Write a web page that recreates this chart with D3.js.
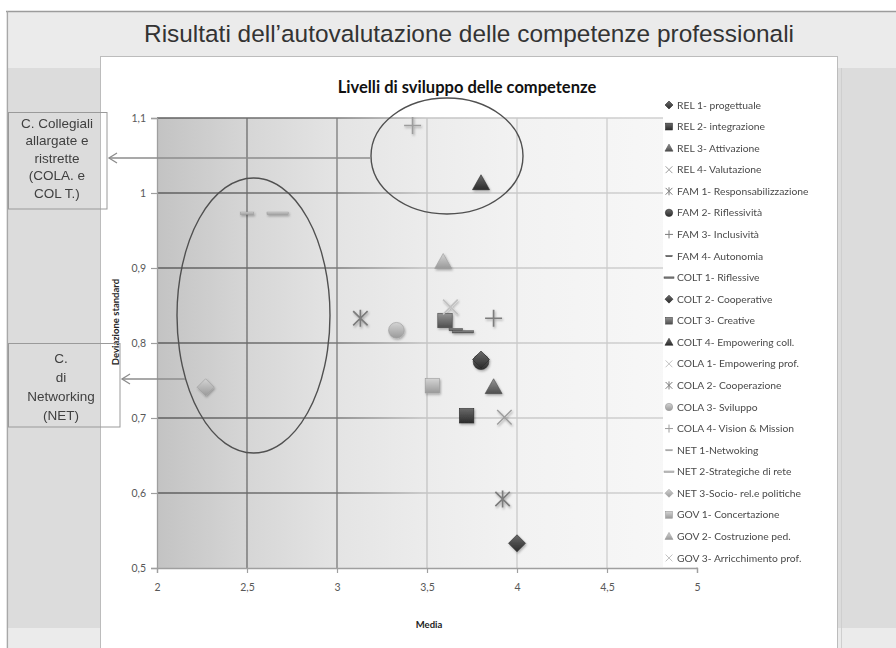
<!DOCTYPE html>
<html>
<head>
<meta charset="utf-8">
<script src="https://cdnjs.cloudflare.com/ajax/libs/d3/7.8.5/d3.min.js"></script>
<style>
  html, body { margin: 0; padding: 0; background: #ffffff; }
  svg { display: block; }
</style>
</head>
<body>
<div id="chart"></div>
<script>
// ---- Data -------------------------------------------------------------
const seriesNames = [
  "REL 1- progettuale", "REL 2- integrazione", "REL 3- Attivazione", "REL 4- Valutazione",
  "FAM 1- Responsabilizzazione", "FAM 2- Riflessività", "FAM 3- Inclusività", "FAM 4- Autonomia",
  "COLT 1- Riflessive", "COLT 2- Cooperative", "COLT 3- Creative", "COLT 4- Empowering coll.",
  "COLA 1- Empowering prof.", "COLA 2- Cooperazione", "COLA 3- Sviluppo", "COLA 4- Vision & Mission",
  "NET 1-Netwoking", "NET 2-Strategiche di rete", "NET 3-Socio- rel.e politiche",
  "GOV 1- Concertazione", "GOV 2- Costruzione ped.", "GOV 3- Arricchimento prof."
];
// Media (x) and Deviazione standard (y) for each competence
const mediaValues = [4.00, 3.72, 3.87, 3.93, 3.92, 3.80, 3.87, 3.66, 3.70, 3.80, 3.60, 3.80,
                     3.63, 3.13, 3.33, 3.42, 2.50, 2.67, 2.27, 3.53, 3.59, 3.63];
const devValues   = [0.533, 0.703, 0.741, 0.701, 0.592, 0.775, 0.833, 0.818, 0.815, 0.778, 0.830, 1.013,
                     0.848, 0.833, 0.817, 1.090, 0.973, 0.973, 0.741, 0.743, 0.908, 0.848];
const xTickValues = [2, 2.5, 3, 3.5, 4, 4.5, 5];
const yTickValues = [0.5, 0.6, 0.7, 0.8, 0.9, 1.0, 1.1];

const mainTitle = "Risultati dell\u2019autovalutazione delle competenze professionali";
const chartTitle = "Livelli di sviluppo delle competenze";
const xTitle = "Media";
const yTitle = "Deviazione standard";
const noteCollegiali = ["C. Collegiali", "allargate e", "ristrette", "(COLA. e", "COL T.)"];
const noteNetworking = ["C.", "di", "Networking", "(NET)"];

// Marker look for each series (shape + grey tone)
const markerStyle = [
  ["diamond", "dark"], ["square", "dark"], ["triangle", "mid"], ["x", "light"],
  ["star", "mid"], ["circle", "dark"], ["plus", "mid"], ["dashShort", "mid"],
  ["dashLong", "mid"], ["diamond", "dark"], ["square", "mid"], ["triangle", "dark"],
  ["x", "pale"], ["star", "mid"], ["circle", "light"], ["plus", "light"],
  ["dashShort", "light"], ["dashLong", "light"], ["diamond", "light"],
  ["square", "light"], ["triangle", "light"], ["x", "pale"]
];

const points = seriesNames.map((name, i) => ({
  name, media: mediaValues[i], dev: devValues[i], shape: markerStyle[i][0], tone: markerStyle[i][1]
}));

// ---- Canvas -------------------------------------------------------------
const W = 896, H = 648;
const svg = d3.select("#chart").append("svg").attr("width", W).attr("height", H)
  .attr("font-family", "Lato, 'Open Sans', sans-serif");
const defs = svg.append("defs");

// tone gradients for filled markers
const tones = {
  dark:  { top: "#6a6a6a", bottom: "#2c2c2c", edge: "#2a2a2a", line: "#4a4a4a" },
  mid:   { top: "#959595", bottom: "#4e4e4e", edge: "#4a4a4a", line: "#7c7c7c" },
  light: { top: "#d4d4d4", bottom: "#9a9a9a", edge: "#9a9a9a", line: "#9c9c9c" },
  pale:  { top: "#e2e2e2", bottom: "#bdbdbd", edge: "#bdbdbd", line: "#c2c2c2" }
};
Object.entries(tones).forEach(([k, t]) => {
  const g = defs.append("linearGradient").attr("id", "tone-" + k)
    .attr("x1", 0).attr("y1", 0).attr("x2", 0).attr("y2", 1);
  g.append("stop").attr("offset", 0).attr("stop-color", t.top);
  g.append("stop").attr("offset", 0.55).attr("stop-color", d3.interpolateRgb(t.top, t.bottom)(0.55));
  g.append("stop").attr("offset", 1).attr("stop-color", t.bottom);
});

const shadow = defs.append("filter").attr("id", "mk-shadow")
  .attr("x", "-50%").attr("y", "-50%").attr("width", "200%").attr("height", "200%");
shadow.append("feDropShadow").attr("dx", 1).attr("dy", 1.5).attr("stdDeviation", 1.1)
  .attr("flood-color", "#000").attr("flood-opacity", 0.3);

// plot-area background: dark on the left fading to white on the right
const bg = defs.append("linearGradient").attr("id", "plot-bg")
  .attr("x1", 0).attr("y1", 0).attr("x2", 1).attr("y2", 0);
[[0, "#c3c3c3"], [0.167, "#d6d6d6"], [0.333, "#e4e4e4"], [0.5, "#ececec"],
 [0.667, "#f2f2f2"], [1, "#f8f8f8"]].forEach(([o, c]) =>
  bg.append("stop").attr("offset", o).attr("stop-color", c));

// ---- Slide background -----------------------------------------------------
svg.append("rect").attr("x", 6).attr("y", 11).attr("width", W - 6).attr("height", H - 11).attr("fill", "#ebebeb");
svg.append("rect").attr("x", 8).attr("y", 68).attr("width", 92).attr("height", 560).attr("fill", "#dcdcdc");
svg.append("rect").attr("x", 838).attr("y", 68).attr("width", 58).attr("height", 560).attr("fill", "#dcdcdc");
svg.append("line").attr("x1", 6).attr("x2", W).attr("y1", 11.5).attr("y2", 11.5)
  .attr("stroke", "#9c9c9c").attr("stroke-width", 1.5);
svg.append("line").attr("x1", 7.5).attr("x2", 7.5).attr("y1", 11).attr("y2", H)
  .attr("stroke", "#a8a8a8").attr("stroke-width", 1.2);
svg.append("line").attr("x1", 841.5).attr("x2", 841.5).attr("y1", 68).attr("y2", H)
  .attr("stroke", "#cfcfcf").attr("stroke-width", 1);

svg.append("text").attr("x", 469).attr("y", 42).attr("text-anchor", "middle")
  .attr("font-family", "'Liberation Sans', Arial, sans-serif").attr("font-size", 24.5)
  .attr("textLength", 650).attr("lengthAdjust", "spacingAndGlyphs")
  .attr("fill", "#333333").text(mainTitle);

// chart panel
svg.append("rect").attr("x", 100.5).attr("y", 56.5).attr("width", 737).attr("height", 600)
  .attr("fill", "#ffffff").attr("stroke", "#bcbcbc").attr("stroke-width", 1);

svg.append("text").attr("x", 467).attr("y", 93).attr("text-anchor", "middle")
  .attr("font-size", 16.5).attr("font-weight", 700).attr("fill", "#111").text(chartTitle);

// ---- Scales -----------------------------------------------------------------
const x = d3.scaleLinear().domain([2, 5]).range([157, 697]);
const y = d3.scaleLinear().domain([0.5, 1.1]).range([568, 118]);
const locale = d3.formatLocale({ decimal: ",", thousands: ".", grouping: [3], currency: ["", "€"] });
const fmt = locale.format("~g");

const plot = svg.append("g");
plot.append("rect").attr("x", x(2)).attr("y", y(1.1))
  .attr("width", x(5) - x(2)).attr("height", y(0.5) - y(1.1)).attr("fill", "url(#plot-bg)");

// gridline colour follows the background: darker on the left
const gridColor = d3.scaleLinear().domain([2, 3, 3.5, 5]).range(["#5e5e5e", "#7a7a7a", "#c4c4c4", "#d2d2d2"]);
const hg = defs.append("linearGradient").attr("id", "grid-h").attr("gradientUnits", "userSpaceOnUse")
  .attr("x1", x(2)).attr("x2", x(5)).attr("y1", 0).attr("y2", 0);
[2, 2.5, 3, 3.5, 4, 5].forEach(v => hg.append("stop").attr("offset", (v - 2) / 3).attr("stop-color", gridColor(v)));

plot.append("g").selectAll("line").data(yTickValues.filter(v => v > 0.5)).join("line")
  .attr("x1", x(2)).attr("x2", x(5)).attr("y1", d => y(d)).attr("y2", d => y(d))
  .attr("stroke", "url(#grid-h)").attr("stroke-width", 1.3);
plot.append("g").selectAll("line").data(xTickValues.filter(v => v > 2)).join("line")
  .attr("x1", d => x(d)).attr("x2", d => x(d)).attr("y1", y(0.5)).attr("y2", y(1.1))
  .attr("stroke", d => gridColor(d)).attr("stroke-width", 1.3);

// axes
const xAxis = plot.append("g").attr("transform", `translate(0,${y(0.5)})`)
  .call(d3.axisBottom(x).tickValues(xTickValues).tickFormat(fmt).tickSize(5).tickPadding(11));
const yAxis = plot.append("g").attr("transform", `translate(${x(2)},0)`)
  .call(d3.axisLeft(y).tickValues(yTickValues).tickFormat(fmt).tickSize(6).tickPadding(5));
[xAxis, yAxis].forEach(a => {
  a.select(".domain").attr("stroke", "#9f9f9f").attr("stroke-width", 1.3);
  a.selectAll(".tick line").attr("stroke", "#9f9f9f").attr("stroke-width", 1.2);
  a.selectAll(".tick text").attr("fill", "#585858").attr("font-size", 10.5)
    .attr("font-family", "Lato, sans-serif");
});

svg.append("text").attr("x", 429).attr("y", 628).attr("text-anchor", "middle")
  .attr("font-size", 9.5).attr("font-weight", 700).attr("fill", "#222").text(xTitle);
svg.append("text").attr("transform", "translate(119,322) rotate(-90)").attr("text-anchor", "middle")
  .attr("font-size", 9.5).attr("font-weight", 700).attr("fill", "#222").text(yTitle);

// ---- Markers ----------------------------------------------------------------
function drawMarker(g, shape, tone, s) {
  const t = tones[tone];
  const fill = `url(#tone-${tone})`;
  if (shape === "diamond") {
    g.append("path").attr("d", `M0,${-s}L${s},0L0,${s}L${-s},0Z`).attr("fill", fill).attr("stroke", t.edge).attr("stroke-width", 0.6);
  } else if (shape === "square") {
    const r = s * 0.85;
    g.append("rect").attr("x", -r).attr("y", -r).attr("width", 2 * r).attr("height", 2 * r)
      .attr("fill", fill).attr("stroke", t.edge).attr("stroke-width", 0.6);
  } else if (shape === "triangle") {
    g.append("path").attr("d", `M0,${-s}L${s},${s * 0.75}L${-s},${s * 0.75}Z`)
      .attr("fill", fill).attr("stroke", t.edge).attr("stroke-width", 0.6);
  } else if (shape === "circle") {
    g.append("circle").attr("r", s * 0.92).attr("fill", fill).attr("stroke", t.edge).attr("stroke-width", 0.6);
  } else if (shape === "x") {
    const r = s * 0.85;
    g.append("path").attr("d", `M${-r},${-r}L${r},${r}M${r},${-r}L${-r},${r}`)
      .attr("stroke", t.line).attr("stroke-width", Math.max(1, s / 6)).attr("fill", "none");
  } else if (shape === "star") {
    const r = s * 0.85;
    g.append("path").attr("d", `M${-r},${-r}L${r},${r}M${r},${-r}L${-r},${r}M0,${-s}L0,${s}`)
      .attr("stroke", t.line).attr("stroke-width", Math.max(1, s / 5)).attr("fill", "none");
  } else if (shape === "plus") {
    g.append("path").attr("d", `M${-s},0L${s},0M0,${-s}L0,${s}`)
      .attr("stroke", t.line).attr("stroke-width", Math.max(1, s / 5)).attr("fill", "none");
  } else if (shape === "dashShort" || shape === "dashLong") {
    const w = shape === "dashShort" ? s * 0.8 : s * 1.25;
    const h = Math.max(1.4, s * 0.28);
    g.append("rect").attr("x", -w).attr("y", -h / 2).attr("width", 2 * w).attr("height", h)
      .attr("fill", fill).attr("stroke", t.edge).attr("stroke-width", 0.5);
  }
}

const markers = plot.append("g").attr("filter", "url(#mk-shadow)");
points.forEach(p => {
  const g = markers.append("g").attr("transform", `translate(${x(p.media)},${y(p.dev)})`);
  drawMarker(g, p.shape, p.tone, 8.5);
});

// ---- Annotations ------------------------------------------------------------
const ann = svg.append("g");
ann.append("ellipse").attr("cx", 447).attr("cy", 156).attr("rx", 76).attr("ry", 58)
  .attr("fill", "none").attr("stroke", "#505050").attr("stroke-width", 1.4);
ann.append("ellipse").attr("cx", 253.5).attr("cy", 315.5).attr("rx", 76.5).attr("ry", 137.5)
  .attr("fill", "none").attr("stroke", "#505050").attr("stroke-width", 1.4);

function arrow(x1, x2, yy) {
  ann.append("line").attr("x1", x1).attr("x2", x2).attr("y1", yy).attr("y2", yy)
    .attr("stroke", "#8c8c8c").attr("stroke-width", 1.3);
  ann.append("path").attr("d", `M${x2 + 8},${yy - 5}L${x2},${yy}L${x2 + 8},${yy + 5}`)
    .attr("fill", "none").attr("stroke", "#8c8c8c").attr("stroke-width", 1.3);
}
arrow(371, 109, 158);
arrow(185, 122, 379);

function noteBox(x0, y0, w, h, lines, firstY, step, cx) {
  ann.append("rect").attr("x", x0).attr("y", y0).attr("width", w).attr("height", h)
    .attr("fill", "none").attr("stroke", "#9a9a9a").attr("stroke-width", 1);
  ann.append("g").selectAll("text").data(lines).join("text")
    .attr("x", cx).attr("y", (d, i) => firstY + i * step).attr("dy", "0.35em")
    .attr("text-anchor", "middle").attr("font-family", "'Liberation Sans', Arial, sans-serif")
    .attr("font-size", 13.5).attr("fill", "#404040").text(d => d);
}
noteBox(8.5, 112.5, 98.5, 96.5, noteCollegiali, 123, 17.5, 57);
noteBox(8.5, 343.5, 111.5, 83.5, noteNetworking, 358, 19, 61);

// ---- Legend ---------------------------------------------------------------------
const legend = svg.append("g");
legend.append("rect").attr("x", 663).attr("y", 95).attr("width", 170).attr("height", 472).attr("fill", "#ffffff");
const item = legend.selectAll("g.item").data(points).join("g").attr("class", "item")
  .attr("transform", (d, i) => `translate(669,${105 + i * 21.57})`);
item.each(function (d) { drawMarker(d3.select(this), d.shape, d.tone, 4); });
item.append("text").attr("x", 8).attr("dy", "0.35em").attr("font-size", 10.3)
  .attr("fill", "#4a4a4a").text(d => d.name);
</script>
</body>
</html>
